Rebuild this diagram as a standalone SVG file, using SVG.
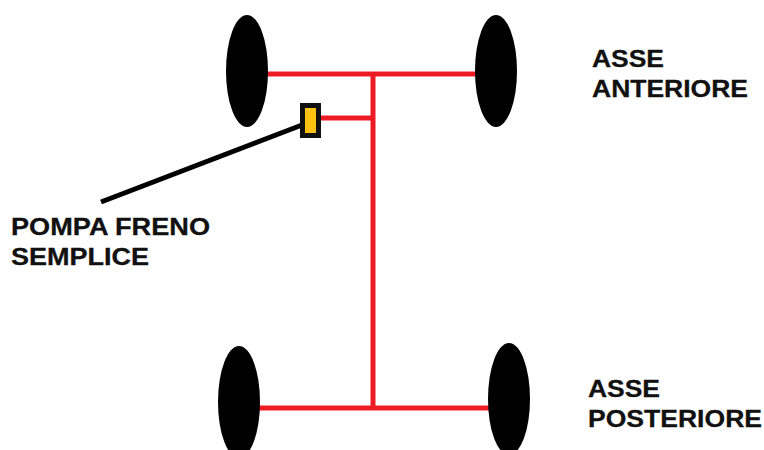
<svg xmlns="http://www.w3.org/2000/svg" width="764" height="450" viewBox="0 0 764 450">
<style>
.w{fill:#000}
.r{stroke:#ed1c24;stroke-width:5;fill:none}
.t{font-family:"Liberation Sans",Arial,sans-serif;font-weight:700;font-size:24px;fill:#111;stroke:#111;stroke-width:.3}
</style>
<rect width="764" height="450" fill="#fff"/>
<g id="connectors">
<path class="r" d="M265 74H476M373 74V408M318 118H373M258 408H490"/>
<path d="M101 202L302 125" stroke="#000" stroke-width="5" fill="none"/>
</g>
<g id="wheel-fl"><ellipse class="w" cx="247" cy="71" rx="21" ry="56"/></g>
<g id="wheel-fr"><ellipse class="w" cx="496" cy="71" rx="21" ry="56"/></g>
<g id="wheel-rl"><ellipse class="w" cx="239" cy="402" rx="21" ry="56"/></g>
<g id="wheel-rr"><ellipse class="w" cx="509" cy="399" rx="21" ry="56"/></g>
<g id="pompa"><rect x="302.500" y="105.500" width="16" height="30" fill="#ffc20e" stroke="#111" stroke-width="5"/></g>
<g id="label-anteriore"><text class="t" x="592" y="67" textLength="72" lengthAdjust="spacingAndGlyphs">ASSE</text><text class="t" x="592" y="97" textLength="156" lengthAdjust="spacingAndGlyphs">ANTERIORE</text></g>
<g id="label-posteriore"><text class="t" x="588" y="397" textLength="72" lengthAdjust="spacingAndGlyphs">ASSE</text><text class="t" x="588" y="427" textLength="174" lengthAdjust="spacingAndGlyphs">POSTERIORE</text></g>
<g id="label-pompa"><text class="t" x="11" y="235" textLength="199" lengthAdjust="spacingAndGlyphs">POMPA FRENO</text><text class="t" x="11" y="265" textLength="138" lengthAdjust="spacingAndGlyphs">SEMPLICE</text></g>
</svg>
